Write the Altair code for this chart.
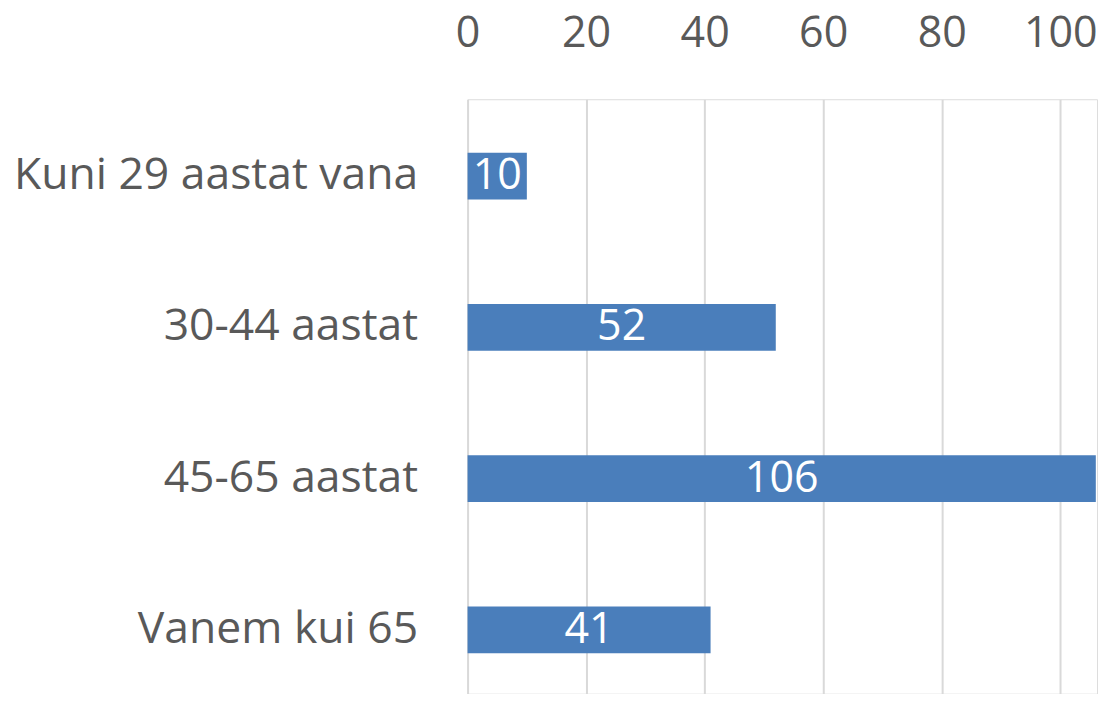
import altair as alt
import pandas as pd

categories = ["Kuni 29 aastat vana", "30-44 aastat", "45-65 aastat", "Vanem kui 65"]
values = [10, 52, 106, 41]
tick_values = [0, 20, 40, 60, 80, 100]

df = pd.DataFrame({"cat": categories, "val": values})

FONT = "Open Sans"
TEXT = "#595959"

y_enc = alt.Y(
    "cat:N",
    sort=categories,
    title=None,
    scale=alt.Scale(paddingInner=0.69, paddingOuter=0.31, align=0.57),
    axis=alt.Axis(
        ticks=False, domain=False, labelFontSize=44.5, labelFont=FONT,
        labelColor=TEXT, labelPadding=50, labelLimit=460,
        minExtent=460, maxExtent=460,
    ),
)

x_enc = alt.X(
    "val:Q",
    title=None,
    scale=alt.Scale(domain=[0, 106.2], nice=False),
    axis=alt.Axis(
        orient="top", values=tick_values, ticks=False, domain=False,
        labelFontSize=43, labelFont=FONT, labelColor=TEXT, labelPadding=44,
        grid=True, gridColor="#d9d9d9", gridWidth=2,
        labelOverlap=False, labelFlush=False,
        minExtent=91, maxExtent=91,
    ),
)

bars = alt.Chart(df).mark_bar(color="#4a7ebb").encode(x=x_enc, y=y_enc)

labels = alt.Chart(df).mark_text(
    color="white", font=FONT, fontSize=43, align="center", baseline="middle"
).encode(
    x=alt.X("mid:Q"),
    y=alt.Y("cat:N", sort=categories),
    text="val:Q",
).transform_calculate(mid="datum.val / 2")

chart = (
    alt.layer(bars, labels)
    .properties(
        width=630,
        height=595,
        padding={"left": 0, "top": 0, "right": 0, "bottom": 0},
    )
    .configure_view(stroke=None)
    .configure(background="white")
)

chart.save("out.html", embed_options={"renderer": "svg", "actions": False})
